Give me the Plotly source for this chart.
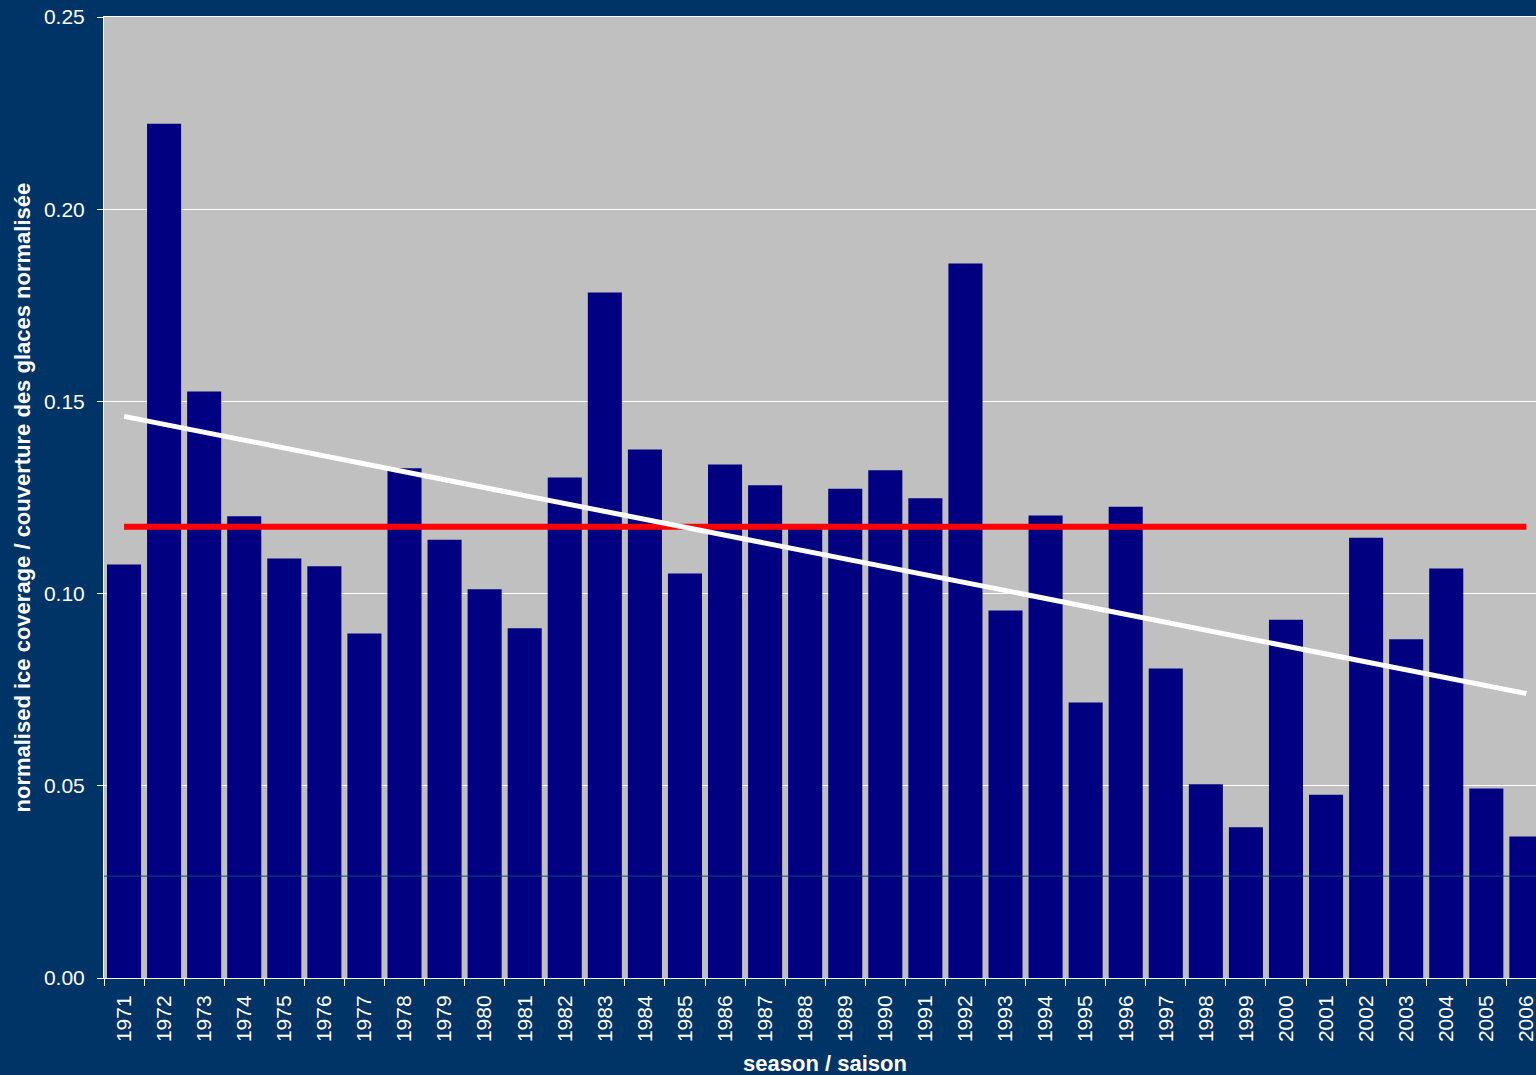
import plotly.graph_objects as go

seasons = [str(y) for y in range(1971, 2007)]
coverage = [0.1076, 0.2222, 0.1526, 0.1201, 0.1091, 0.1071, 0.0896, 0.1326, 0.1140, 0.1011,
            0.0910, 0.1302, 0.1783, 0.1375, 0.1052, 0.1336, 0.1282, 0.1168, 0.1273, 0.1321,
            0.1248, 0.1859, 0.0956, 0.1203, 0.0717, 0.1226, 0.0805, 0.0504, 0.0392, 0.0932,
            0.0477, 0.1145, 0.0881, 0.1065, 0.0493, 0.0368]
normal_value = 0.1174          # 1971-2000 normal (red line)
trend_ends = [0.1461, 0.0740]  # linear trend at 1971 and 2006 (white line)
thin_ref_value = 0.0265        # thin dark reference line
y_ticks = [0.00, 0.05, 0.10, 0.15, 0.20, 0.25]

BG = "#003366"
PLOT_BG = "#C0C0C0"
BAR = "#000080"
FONT = "Arial, Liberation Sans, sans-serif"

fig = go.Figure()
fig.add_trace(go.Bar(x=seasons, y=coverage, marker=dict(color=BAR, line=dict(width=0)),
                     showlegend=False))
fig.add_trace(go.Scatter(x=[seasons[0], seasons[-1]], y=[normal_value, normal_value],
                         mode="lines", line=dict(color="#FF0000", width=6), showlegend=False))
fig.add_trace(go.Scatter(x=[seasons[0], seasons[-1]], y=trend_ends,
                         mode="lines", line=dict(color="#FFFFFF", width=5), showlegend=False))

fig.add_shape(type="line", xref="paper", x0=0, x1=1, yref="y", y0=thin_ref_value, y1=thin_ref_value,
              line=dict(color="#004A70", width=1), layer="above")

fig.update_layout(
    width=1536, height=1075,
    margin=dict(l=104, r=0, t=17, b=97, pad=0),
    paper_bgcolor=BG, plot_bgcolor=PLOT_BG,
    bargap=0.15,
    font=dict(family=FONT, color="white", size=21),
    xaxis=dict(type="category", range=[-0.5, 35.24], tickson="boundaries",
               ticks="outside", ticklen=7, tickcolor="white", tickwidth=1,
               tickangle=-90, tickfont=dict(size=21, color="white", family=FONT),
               showline=True, linecolor="white", linewidth=1, mirror=True,
               showgrid=False, ticklabelstandoff=8),
    yaxis=dict(range=[0, 0.25], tickvals=y_ticks, tickformat=".2f",
               ticks="outside", ticklen=6, tickcolor="white",
               tickfont=dict(size=21, color="white", family=FONT),
               showline=True, linecolor="white", linewidth=1,
               showgrid=True, gridcolor="white", gridwidth=1, zeroline=False,
               ticklabelstandoff=8),
    annotations=[
        dict(text="<b>season / saison</b>", xref="x", x=17.5, yref="paper", y=0,
             yanchor="middle", yshift=-85, showarrow=False,
             font=dict(size=22, color="white", family=FONT)),
        dict(text="<b>normalised ice coverage / couverture des glaces normalisée</b>",
             xref="paper", x=0, xanchor="center", xshift=-82, yref="paper", y=0.5,
             yanchor="middle", textangle=-90, showarrow=False,
             font=dict(size=22, color="white", family=FONT)),
    ],
)

fig.write_html("out.html", config={"displayModeBar": False},
               post_script="document.body.style.margin='0';document.body.style.overflow='hidden';")
